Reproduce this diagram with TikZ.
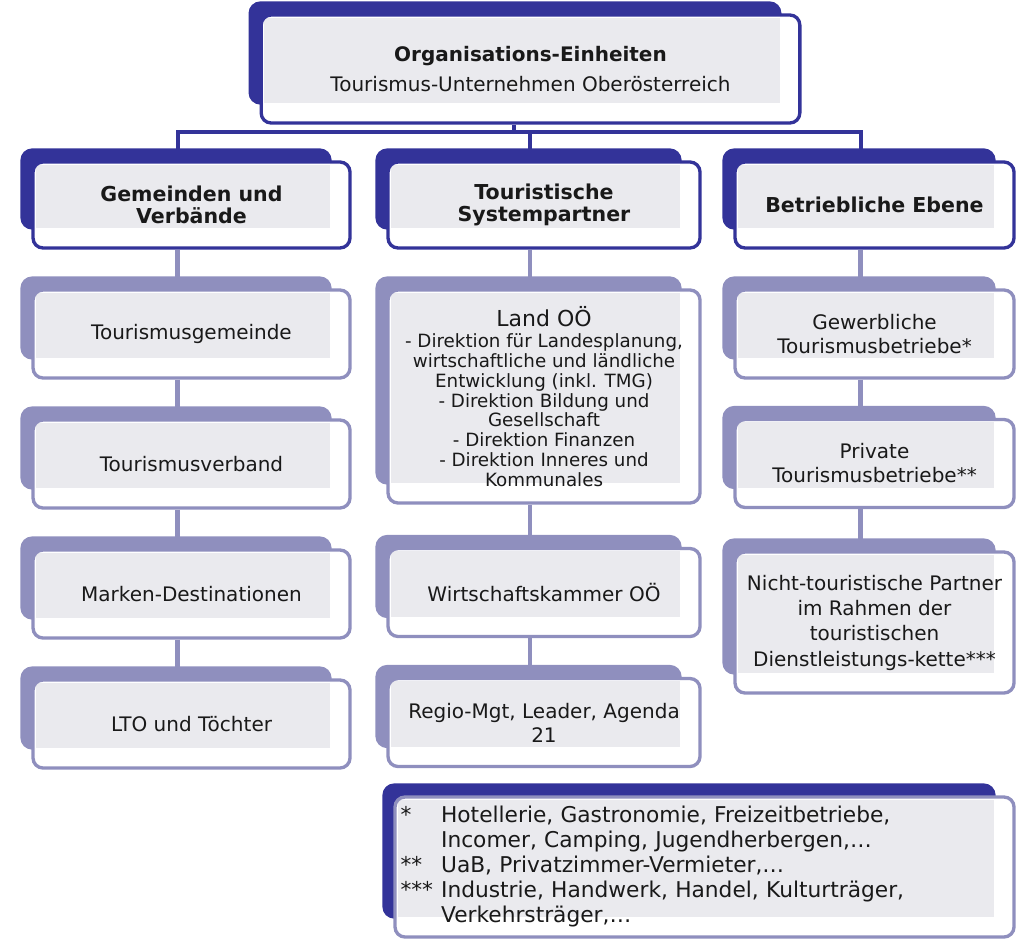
\documentclass[tikz,border=0pt]{standalone}
\usepackage{fontspec}
\setmainfont{DejaVu Sans}
\usetikzlibrary{backgrounds}

\definecolor{orgdark}{RGB}{51,51,153}
\definecolor{orglight}{RGB}{143,143,190}
\definecolor{boxgray}{RGB}{234,234,238}

\tikzset{
  frontbox/.style={draw=#1, line width=2.5pt, fill=white, rounded corners=7.5pt,
    align=center, inner sep=2pt, text=black!90,
    font=\fontsize{15}{18}\selectfont,
    path picture={\fill[boxgray, sharp corners]
      ([shift={(2pt,-2pt)}]path picture bounding box.north west) rectangle
      ([shift={(-15pt,15pt)}]path picture bounding box.south east);}},
  headbox/.style={frontbox=orgdark, font=\fontsize{15.4}{16.5}\selectfont\bfseries},
  subbox/.style={frontbox=orglight},
  darkline/.style={orgdark, line width=3pt},
  lightline/.style={orglight, line width=3.5pt},
}

\begin{document}
\begin{tikzpicture}[x=0.75pt,y=-0.75pt]
  \useasboundingbox (0,0) rectangle (1017,941);

  \node[frontbox=orgdark, minimum width=404pt, minimum height=81pt] (org) at (530.5,69)
    {\textbf{Organisations-Einheiten}\\[5pt] Tourismus-Unternehmen Oberösterreich};

  % erste Ebene
  \node[headbox, minimum width=237.75pt, minimum height=64.5pt] (gem) at (191.5,205) {Gemeinden und\\Verbände};
  \node[headbox, minimum width=234pt, minimum height=64.5pt] (sys) at (544,205) {Touristische\\Systempartner};
  \node[headbox, minimum width=209.25pt, minimum height=64.5pt] (betr) at (874.5,205) {Betriebliche Ebene};

  % Gemeinden und Verbaende
  \node[subbox, minimum width=237.75pt, minimum height=66pt] (tgem) at (191.5,334) {Tourismusgemeinde};
  \node[subbox, minimum width=237.75pt, minimum height=66pt] (tverb) at (191.5,464) {Tourismusverband};
  \node[subbox, minimum width=237.75pt, minimum height=66pt] (marken) at (191.5,594) {Marken-Destinationen};
  \node[subbox, minimum width=237.75pt, minimum height=66pt] (lto) at (191.5,724) {LTO und Töchter};

  % Systempartner
  \node[subbox, minimum width=234pt, minimum height=159.75pt, font=\fontsize{13.7}{14.8}\selectfont] (land) at (544,396.5)
    {{\fontsize{16.5}{18}\selectfont Land OÖ}\\[1pt]
     - Direktion für Landesplanung,\\wirtschaftliche und ländliche\\Entwicklung (inkl. TMG)\\
     - Direktion Bildung und\\Gesellschaft\\- Direktion Finanzen\\- Direktion Inneres und\\Kommunales};
  \node[subbox, minimum width=234pt, minimum height=66pt] (wko) at (544,592.5) {Wirtschaftskammer OÖ};
  \node[subbox, minimum width=234pt, minimum height=66pt] (regio) at (544,722.5) {Regio-Mgt, Leader, Agenda\\21};

  % Betriebliche Ebene
  \node[subbox, minimum width=209.25pt, minimum height=66pt] (gewerbe) at (874.5,334) {Gewerbliche\\Tourismusbetriebe*};
  \node[subbox, minimum width=209.25pt, minimum height=66pt] (privat) at (874.5,463.5) {Private\\Tourismusbetriebe**};
  \node[subbox, minimum width=209.25pt, minimum height=105.75pt, font=\fontsize{15}{19}\selectfont] (partner) at (874.5,622.5)
    {Nicht-touristische Partner\\im Rahmen der\\touristischen\\Dienstleistungs-kette***};

  % Fussnoten
  \node[subbox, minimum width=464.25pt, minimum height=105pt, align=left, inner xsep=4pt,
        text width=456pt, font=\fontsize{16.3}{18.75}\selectfont] (notes) at (704.5,867)
    {\begin{tabular}{@{}l@{\hspace{6pt}}l@{}}
      {*}   & Hotellerie, Gastronomie, Freizeitbetriebe,\\
            & Incomer, Camping, Jugendherbergen,…\\
      {**}  & UaB, Privatzimmer-Vermieter,…\\
      {***} & Industrie, Handwerk, Handel, Kulturträger,\\
            & Verkehrsträger,…
     \end{tabular}};

  \begin{scope}[on background layer]
    \coordinate (bus) at (0,132);
    \draw[darkline] ([xshift=-12.75pt]org.south) -- ([xshift=-12.75pt]org.south |- bus);
    \draw[darkline] ([xshift=-10.5pt]gem.north) |- ([xshift=-10.5pt]betr.north |- bus) -- ([xshift=-10.5pt]betr.north);
    \draw[darkline] ([xshift=-10.5pt]sys.north) -- ([xshift=-10.5pt]sys.north |- bus);
    \foreach \a/\b in {gem/tgem, tgem/tverb, tverb/marken, marken/lto,
                       sys/land, land/wko, wko/regio,
                       betr/gewerbe, gewerbe/privat, privat/partner}
      \draw[lightline] ([xshift=-10.5pt]\a.south) -- ([xshift=-10.5pt]\b.north);
    % Schatten-Flaechen hinter den Kaesten
    \foreach \n/\c in {org/orgdark, gem/orgdark, sys/orgdark, betr/orgdark, notes/orgdark,
                       tgem/orglight, tverb/orglight, marken/orglight, lto/orglight,
                       land/orglight, wko/orglight, regio/orglight,
                       gewerbe/orglight, privat/orglight, partner/orglight}
      \fill[\c, rounded corners=9pt] ([shift={(-8.25pt,9pt)}]\n.north west) rectangle ([shift={(-15pt,15pt)}]\n.south east);
  \end{scope}
\end{tikzpicture}
\end{document}
